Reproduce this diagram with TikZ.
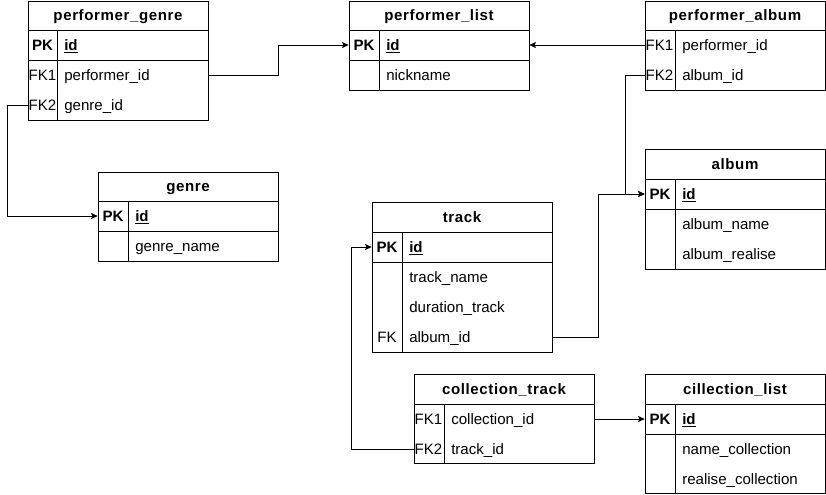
\documentclass[tikz,border=0pt]{standalone}
\usepackage{fontspec}
\setmainfont{Liberation Sans}
\newfontfamily\hdrfam{Liberation Sans}[LetterSpace=4]
\usetikzlibrary{arrows.meta}
\begin{document}
\begin{tikzpicture}[x=0.75pt,y=-0.75pt,
  tline/.style={draw=black,line width=0.75pt},
  txt/.style={inner sep=0pt,text height=10pt,text depth=1.9pt,font=\fontsize{11.3}{13}\selectfont},
  hdr/.style={txt,font=\fontsize{11.3}{13}\hdrfam\bfseries},
  keyb/.style={txt,font=\fontsize{11.3}{13}\selectfont\bfseries},
  keyn/.style={txt},
  fld/.style={txt,anchor=west},
  fldb/.style={fld,font=\fontsize{11.3}{13}\selectfont\bfseries},
  rowbox/.style={inner sep=0pt,minimum width=135pt,minimum height=22.5pt},
  conn/.style={line width=0.75pt,-{Stealth[length=5pt,width=4.5pt,inset=1pt]}}]
\useasboundingbox (0,0) rectangle (826,494);

% performer_genre
\draw[tline] (28,1) rectangle (208,120);
\draw[tline] (28,30) -- (208,30) (28,60) -- (208,60) (57,30) -- (57,120);
\node[hdr] (pgh) at (118,15.5) {performer\_genre};
\node[rowbox] (pg1) at (118,45) {};
\node[rowbox] (pg2) at (118,75) {};
\node[rowbox] (pg3) at (118,105) {};
\node[keyb] (pgk1) at (42.5,45) {PK};
\node[fldb] (pgf1) at (64,45) {\underline{id}};
\node[keyn] (pgk2) at (42.5,75) {FK1};
\node[fld] (pgf2) at (64,75) {performer\_id};
\node[keyn] (pgk3) at (42.5,105) {FK2};
\node[fld] (pgf3) at (64,105) {genre\_id};

% performer_list
\draw[tline] (349,1) rectangle (529,90);
\draw[tline] (349,30) -- (529,30) (349,60) -- (529,60) (379,30) -- (379,90);
\node[hdr] (plh) at (439,15.5) {performer\_list};
\node[rowbox] (pl1) at (439,45) {};
\node[rowbox] (pl2) at (439,75) {};
\node[keyb] (plk1) at (364,45) {PK};
\node[fldb] (plf1) at (386,45) {\underline{id}};
\node[fld] (plf2) at (386,75) {nickname};

% performer_album
\draw[tline] (645,1) rectangle (825,90);
\draw[tline] (645,30) -- (825,30) (675,30) -- (675,90);
\node[hdr] (pah) at (735,15.5) {performer\_album};
\node[rowbox] (pa1) at (735,45) {};
\node[rowbox] (pa2) at (735,75) {};
\node[keyn] (pak1) at (659.5,45) {FK1};
\node[fld] (paf1) at (682,45) {performer\_id};
\node[keyn] (pak2) at (659.5,75) {FK2};
\node[fld] (paf2) at (682,75) {album\_id};

% genre
\draw[tline] (98,172) rectangle (278,261);
\draw[tline] (98,201) -- (278,201) (98,231) -- (278,231) (128,201) -- (128,261);
\node[hdr] (geh) at (188,186.5) {genre};
\node[rowbox] (ge1) at (188,216) {};
\node[rowbox] (ge2) at (188,246) {};
\node[keyb] (gek1) at (113,216) {PK};
\node[fldb] (gef1) at (135,216) {\underline{id}};
\node[fld] (gef2) at (135,246) {genre\_name};

% album
\draw[tline] (645,149) rectangle (825,269);
\draw[tline] (645,179) -- (825,179) (645,209) -- (825,209) (675,179) -- (675,269);
\node[hdr] (alh) at (735,164) {album};
\node[rowbox] (al1) at (735,194) {};
\node[rowbox] (al2) at (735,224) {};
\node[rowbox] (al3) at (735,254) {};
\node[keyb] (alk1) at (660,194) {PK};
\node[fldb] (alf1) at (682,194) {\underline{id}};
\node[fld] (alf2) at (682,224) {album\_name};
\node[fld] (alf3) at (682,254) {album\_realise};

% track
\draw[tline] (372,202) rectangle (552,352);
\draw[tline] (372,232) -- (552,232) (372,262) -- (552,262) (402,232) -- (402,352);
\node[hdr] (trh) at (462,217) {track};
\node[rowbox] (tr1) at (462,247) {};
\node[rowbox] (tr2) at (462,277) {};
\node[rowbox] (tr3) at (462,307) {};
\node[rowbox] (tr4) at (462,337) {};
\node[keyb] (trk1) at (387,247) {PK};
\node[fldb] (trf1) at (409,247) {\underline{id}};
\node[fld] (trf2) at (409,277) {track\_name};
\node[fld] (trf3) at (409,307) {duration\_track};
\node[keyn] (trk4) at (387,337) {FK};
\node[fld] (trf4) at (409,337) {album\_id};

% collection_track
\draw[tline] (414,374) rectangle (594,463);
\draw[tline] (414,404) -- (594,404) (444,404) -- (444,463);
\node[hdr] (cth) at (504,389) {collection\_track};
\node[rowbox] (ct1) at (504,419) {};
\node[rowbox] (ct2) at (504,449) {};
\node[keyn] (ctk1) at (428.5,419) {FK1};
\node[fld] (ctf1) at (451,419) {collection\_id};
\node[keyn] (ctk2) at (428.5,449) {FK2};
\node[fld] (ctf2) at (451,449) {track\_id};

% cillection_list
\draw[tline] (645,374) rectangle (825,493);
\draw[tline] (645,404) -- (825,404) (645,434) -- (825,434) (675,404) -- (675,493);
\node[hdr] (clh) at (735,389) {cillection\_list};
\node[rowbox] (cl1) at (735,419) {};
\node[rowbox] (cl2) at (735,449) {};
\node[rowbox] (cl3) at (735,479) {};
\node[keyb] (clk1) at (660,419) {PK};
\node[fldb] (clf1) at (682,419) {\underline{id}};
\node[fld] (clf2) at (682,449) {name\_collection};
\node[fld] (clf3) at (682,479) {realise\_collection};

% connectors
\draw[conn] (pg2.east) -- ++(70,0) |- (pl1.west);
\draw[conn] (pa1.west) -- (pl1.east);
\draw[conn] (pg3.west) -- ++(-20,0) |- (ge1.west);
\draw[conn] (pa2.west) -- ++(-19,0) |- (al1.west);
\draw[conn] (tr4.east) -- ++(46,0) |- (al1.west);
\draw[conn] (ct2.west) -- ++(-62,0) |- (tr1.west);
\draw[conn] (ct1.east) -- (cl1.west);
\end{tikzpicture}
\end{document}
